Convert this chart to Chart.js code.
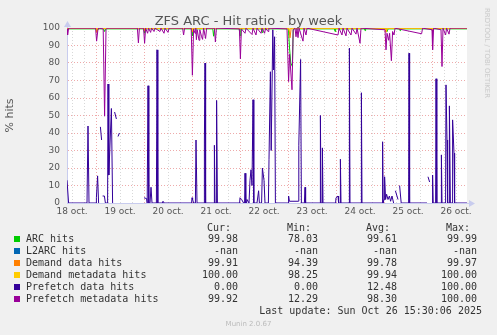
<!DOCTYPE html>
<html>
<head>
<meta charset="utf-8">
<script src="https://cdn.jsdelivr.net/npm/chart.js@4/dist/chart.umd.min.js"></script>
<style>
  html, body { margin: 0; padding: 0; background: #f0f0f0; }
  #wrap { position: relative; width: 497px; height: 335px; overflow: hidden; }
  #chart { position: absolute; left: 0; top: 0; }
  .txt { position: absolute; white-space: pre; }
  #title { left: 0; width: 497px; top: 14px; text-align: center; font: 13px "DejaVu Sans"; color: #555; line-height: 13px; }
  #side { left: 487px; top: 53px; font: 7px "DejaVu Sans"; color: #c8c8c8; transform: translate(-50%, -50%) rotate(90deg); transform-origin: center; line-height: 8px; }
  #munin { left: 0; width: 497px; top: 319px; text-align: center; font: 7px "DejaVu Sans"; color: #bbb; line-height: 10px; }
  .leg { font: 10px "DejaVu Sans Mono"; color: #333; line-height: 12px; }
  .sq { position: absolute; width: 6px; height: 6px; }
</style>
</head>
<body>
<div id="wrap">
  <canvas id="chart" width="497" height="335"></canvas>
  <div id="title" class="txt">ZFS ARC - Hit ratio - by week</div>
  <div id="side" class="txt">RRDTOOL / TOBI OETIKER</div>
  <div id="munin" class="txt">Munin 2.0.67</div>
</div>
<script>
// hours counted from 18 oct 00:00; graph covers 18 oct 09:30 .. 26 oct 17:30
const dayLabels = ['18 oct.', '19 oct.', '20 oct.', '21 oct.', '22 oct.', '23 oct.', '24 oct.', '25 oct.', '26 oct.'];
const startHour = 9.5;
const endHour = 209.5;

const seriesNames = ['ARC hits', 'L2ARC hits', 'Demand data hits', 'Demand metadata hits', 'Prefetch data hits', 'Prefetch metadata hits'];
const seriesColors = ['#00CC00', '#0066B3', '#FF8000', '#FFCC00', '#330099', '#990099'];
const curValues = ['99.98', '-nan', '99.91', '100.00', '0.00', '99.92'];
const minValues = ['78.03', '-nan', '94.39', '98.25', '0.00', '12.29'];
const avgValues = ['99.61', '-nan', '99.78', '99.94', '12.48', '98.30'];
const maxValues = ['99.99', '-nan', '99.97', '100.00', '100.00', '100.00'];

// [hour, percent]; null = no data
const arcHits = [
  [9.5, 99.5], [24, 99.5], [24.5, 98.7], [25.5, 99.5], [27.8, 99.5], [28.3, 98], [28.8, 99.5],
  [47.8, 99.5], [48.3, 97], [48.8, 99.5], [71.8, 99.5], [72.2, 95.5], [72.6, 99.5],
  [82.4, 99.5], [82.8, 95.3], [83.3, 99.5], [95.6, 99.5], [96, 95.5], [96.4, 99.5],
  [106.6, 99.5], [107, 97.4], [107.4, 99.5], [120.2, 99.5], [120.8, 88], [121.4, 80], [122.2, 78], [122.6, 99.5],
  [143.2, 99.5], [143.5, 98], [143.8, 99.5], [158.2, 99.5], [158.5, 98.5], [158.8, 99.5],
  [169.2, 99.5], [169.6, 98], [170, 99.5], [175.8, 99.5], [176, 98.5], [176.3, 99.5],
  [192, 99.5], [192.3, 98], [192.6, 99.5], [209.5, 99.5]
];
const l2arcHits = [];
const demandDataHits = [
  [9.5, 99.85], [24, 99.85], [24.4, 97.5], [24.9, 99.85], [48, 99.85], [48.3, 98.5], [48.7, 99.85],
  [72, 99.85], [72.3, 97.8], [72.7, 99.85], [120.5, 99.85], [121, 94.4], [121.6, 99.85],
  [168.5, 99.85], [169, 97.5], [169.5, 99.85], [192, 99.85], [192.3, 98], [192.7, 99.85], [209.5, 99.85]
];
const demandMetadataHits = [
  [9.5, 99.9], [24.2, 99.9], [24.5, 98.8], [24.9, 99.9], [72, 99.9], [72.3, 98.6], [72.7, 99.9],
  [120.3, 99.9], [120.7, 98.25], [121.2, 99.9], [168.6, 99.9], [169, 98.5], [169.4, 99.9],
  [192, 99.9], [192.4, 98.8], [192.8, 99.9], [209.5, 99.9]
];
const prefetchDataHits = [
  [9.5, 13], [10.3, 0], [19.5, 0], [20, 44], [20.5, 0], [24, 0], [24.2, 3], [24.8, 15.5], [25.3, 0], [25.7, null],
  [26.2, 43.5], [26.8, 36], [27, null],
  [27.3, 4], [28.2, 4], [28.7, 0], [29.8, 0], [30, 68], [30.4, 16], [31.7, 54], [32.3, 0], [32.8, null],
  [33.3, 52], [34.2, 48], [34.6, null],
  [35, 38], [35.7, 40], [36, null],
  [48, 3], [49.3, 2.5], [49.6, 0], [49.8, 0], [50, 67], [50.4, 0], [51, 0], [51.5, 9], [52, 0],
  [54.2, 0], [54.5, 87.5], [54.9, 0], [57.2, 0], [57.5, 1], [58, 0],
  [71.8, 0], [72, 3], [72.3, 2], [72.8, 0], [73.7, 0], [74, 36], [74.5, 0], [78, 0], [78.2, 36], [78.5, 80], [78.8, 0],
  [83, 0], [83.2, 33], [83.5, 0], [84, 0], [84.3, 58.6], [84.7, 0],
  [95.8, 0], [96, 3], [96.8, 2], [97.8, 0], [98.3, 0], [98.5, 17], [98.9, 0], [99.3, 0], [99.5, 2], [100.5, 0], [101, 13], [101.5, 19],
  [102, 10], [102.5, 59], [102.9, 0], [104.5, 0], [105.3, 7], [105.7, 0], [106.8, 0], [107.2, 20], [108, 13], [108.5, 0],
  [110.2, 0], [110.5, 25], [111.2, 75], [111.6, 30], [112.4, 99], [112.8, 76], [113.3, 95], [113.7, 0],
  [120, 0], [120.3, 4], [120.7, 1], [125.2, 1], [125.4, 33], [126.3, 82], [126.7, 0], [128.2, 0], [128.5, 9], [128.8, 0],
  [136, 0], [136.2, 50], [136.5, 0], [137, 0], [137.2, 31.5], [137.5, 0], [143.8, 0], [144, 3], [145, 4], [145.3, 0],
  [146, 0], [146.2, 25], [146.5, 0], [150.5, 0], [150.7, 88.5], [151, 0], [156.5, 0], [156.7, 63], [157, 0],
  [167.1, 0], [167.3, 35], [167.6, 0], [168, 2], [168.3, 15], [168.8, 2], [169.3, 5], [170, 2], [170.7, 4],
  [171.3, 1], [172, 4], [172.8, 0], [173.2, null],
  [173.7, 7], [175, 2], [175.4, null],
  [175.8, 10], [176.6, 0], [180.3, 0], [180.5, 85.6], [180.8, 0], [189.5, 0], [189.8, null],
  [190, 15], [190.8, 12], [191.2, null],
  [192, 0], [192.3, 16], [192.6, 0], [193.8, 0], [194, 71], [194.4, 0], [196.5, 0], [196.7, 27.5], [197, 0],
  [198.8, 0], [199, 67.5], [199.5, 36], [199.8, 0], [200.5, 0], [200.7, 55.5], [201.2, 0],
  [202, 0], [202.3, 47.5], [203, 28.5], [203.3, 0], [209.5, 0]
];
const prefetchMetadataHits = [
  [9.5, 99.5], [9.8, 96], [10.3, 99.9], [23.8, 99.9], [24.3, 92.5], [25, 99.5], [25.5, 99.9],
  [27.6, 99.5], [28.3, 49.6], [29, 99], [29.5, 99.9], [44.7, 99.9], [45.2, 91.5], [45.7, 99.9],
  [47.8, 99.9], [48.3, 91.3], [48.8, 99.9], [49.8, 97], [50.3, 99.9], [51.3, 97.5], [51.8, 99.9],
  [53, 98], [53.5, 99.9], [56, 98], [56.5, 99.9], [58, 97], [58.5, 99.9], [60, 97.5], [60.5, 99.9],
  [67.3, 99.9], [67.8, 96], [68.3, 99.9], [71.6, 99.9], [72.2, 73], [72.8, 99.5], [73.5, 97], [73.9, 99.9],
  [74.2, 93.3], [74.6, 99], [75.5, 93], [75.9, 99], [76.8, 95], [77.3, 93.5], [77.8, 99.9], [78.8, 94], [79.3, 99.9],
  [83.2, 99.9], [83.7, 92], [84.2, 99.9], [95.7, 99.5], [96.2, 82.4], [96.7, 99.5], [98.5, 97], [99, 99.9],
  [102, 96.3], [102.5, 99.9], [104, 96], [104.5, 99.9], [106.5, 97], [107, 99.9], [108.3, 97], [108.8, 99.9],
  [110, 98], [110.4, 99.9], [119.5, 99.5], [120.3, 69.4], [120.8, 85], [122, 64.7], [122.6, 99], [123.5, 99.9],
  [124, 95], [124.5, 99.9], [125, 94.5], [125.5, 99.9], [127.5, 92.5], [128, 99.9], [129, 96], [129.5, 99.9],
  [145, 96], [145.5, 99.9], [147, 96], [147.5, 99.9], [149, 95.5], [149.5, 99.9], [151.5, 96], [152, 99.9],
  [154, 96.5], [154.5, 99.9], [156, 91.3], [156.5, 99.9], [168.5, 99], [169, 87.5], [169.5, 97], [170.3, 93],
  [170.8, 97], [171.7, 81.3], [172.3, 98], [173, 96], [173.5, 99.9], [186.8, 96.7], [187.3, 99.9],
  [192, 99], [192.3, 87.5], [192.8, 99.9], [196.5, 99], [197, 78], [197.5, 99.9], [198.8, 96], [199.3, 99.9],
  [200.5, 96.5], [201, 99.9], [209.5, 99.92]
];

const seriesData = [arcHits, l2arcHits, demandDataHits, demandMetadataHits, prefetchDataHits, prefetchMetadataHits];

// ---- legend (munin style table) ----
const wrap = document.getElementById('wrap');
function addText(text, left, top, right) {
  const el = document.createElement('div');
  el.className = 'txt leg';
  el.textContent = text;
  el.style.top = top + 'px';
  if (right !== undefined) el.style.right = right + 'px';
  else el.style.left = left + 'px';
  wrap.appendChild(el);
}
const colRight = [259, 179, 100, 20];
const headRight = [266, 186, 107, 27];
['Cur:', 'Min:', 'Avg:', 'Max:'].forEach((h, i) => addText(h, 0, 222, headRight[i]));
seriesNames.forEach((name, i) => {
  const top = 233 + i * 12;
  const sq = document.createElement('div');
  sq.className = 'sq';
  sq.style.left = '14px';
  sq.style.top = (top + 3) + 'px';
  sq.style.background = seriesColors[i];
  wrap.appendChild(sq);
  addText(name, 26, top);
  [curValues, minValues, avgValues, maxValues].forEach((col, c) => addText(col[i], 0, top, colRight[c]));
});
addText('Last update: Sun Oct 26 15:30:06 2025', 0, 305, 15);

// ---- chart ----
const majorGrid = '#eeaaaa';
const minorGrid = '#d8d8d8';
const axisColor = '#c8ccee';

const decorPlugin = {
  id: 'decor',
  beforeDraw(chart) {
    const { ctx, chartArea: a } = chart;
    ctx.save();
    ctx.fillStyle = '#ffffff';
    ctx.fillRect(a.left, a.top, a.right - a.left, a.bottom - a.top);
    ctx.restore();
  },
  afterDraw(chart) {
    const { ctx, chartArea: a } = chart;
    ctx.save();
    ctx.fillStyle = axisColor;
    ctx.strokeStyle = axisColor;
    ctx.lineWidth = 1;
    ctx.beginPath();
    ctx.moveTo(a.left + 0.5, a.top);
    ctx.lineTo(a.left + 0.5, a.top - 3);
    ctx.moveTo(a.right, a.bottom + 0.5);
    ctx.lineTo(a.right + 3, a.bottom + 0.5);
    ctx.stroke();
    ctx.beginPath();
    ctx.moveTo(a.left + 0.5, a.top - 7);
    ctx.lineTo(a.left - 3, a.top - 1);
    ctx.lineTo(a.left + 4, a.top - 1);
    ctx.closePath();
    ctx.fill();
    ctx.beginPath();
    ctx.moveTo(a.right + 8, a.bottom + 0.5);
    ctx.lineTo(a.right + 2, a.bottom - 3);
    ctx.lineTo(a.right + 2, a.bottom + 4);
    ctx.closePath();
    ctx.fill();
    ctx.restore();
  }
};

const datasets = seriesNames.map((name, i) => ({
  label: name,
  data: seriesData[i].map(p => ({ x: p[0], y: p[1] })),
  borderColor: seriesColors[i],
  backgroundColor: seriesColors[i],
  borderWidth: 1,
  pointRadius: 0,
  tension: 0,
  spanGaps: false,
  order: seriesNames.length - i
}));

const xTicks = [];
dayLabels.forEach((d, i) => {
  [0, 6, 12, 18].forEach(h => {
    const v = i * 24 + h;
    if (v > startHour && v < endHour) xTicks.push(v);
  });
});

new Chart(document.getElementById('chart').getContext('2d'), {
  type: 'line',
  data: { datasets },
  options: {
    responsive: false,
    animation: false,
    events: [],
    layout: { padding: { left: 0, top: 28, right: 30, bottom: 112 } },
    plugins: {
      legend: { display: false },
      tooltip: { enabled: false }
    },
    scales: {
      x: {
        type: 'linear',
        min: startHour,
        max: endHour,
        afterBuildTicks: scale => { scale.ticks = xTicks.map(v => ({ value: v })); },
        afterFit: scale => { scale.height = 20; scale.paddingLeft = 0; scale.paddingRight = 0; },
        ticks: {
          autoSkip: false,
          maxRotation: 0,
          padding: 3,
          color: '#555',
          font: { family: 'DejaVu Sans', size: 9 },
          callback: v => (v % 24 === 12 ? dayLabels[(v - 12) / 24] : '')
        },
        grid: {
          drawTicks: false,
          lineWidth: 1,
          color: c => (c.tick && c.tick.value % 24 === 0 ? majorGrid : minorGrid)
        },
        border: { display: true, color: axisColor, width: 1, dash: [1, 2] }
      },
      y: {
        min: 0,
        max: 100,
        afterBuildTicks: scale => {
          const t = [];
          for (let v = 0; v <= 100; v += 5) t.push({ value: v });
          scale.ticks = t;
        },
        afterFit: scale => { scale.width = 67; scale.paddingTop = 0; scale.paddingBottom = 0; },
        ticks: {
          padding: 7,
          color: '#555',
          font: { family: 'DejaVu Sans', size: 9 },
          callback: v => (v % 10 === 0 ? String(v) : '')
        },
        grid: {
          drawTicks: false,
          lineWidth: 1,
          color: c => (c.tick && c.tick.value % 10 === 0 ? majorGrid : minorGrid)
        },
        border: { display: true, color: axisColor, width: 1, dash: [1, 2] },
        title: {
          display: true,
          text: '% hits',
          color: '#555',
          font: { family: 'DejaVu Sans', size: 11 },
          padding: { top: 4, bottom: 0 }
        }
      }
    }
  },
  plugins: [decorPlugin]
});
</script>
</body>
</html>
